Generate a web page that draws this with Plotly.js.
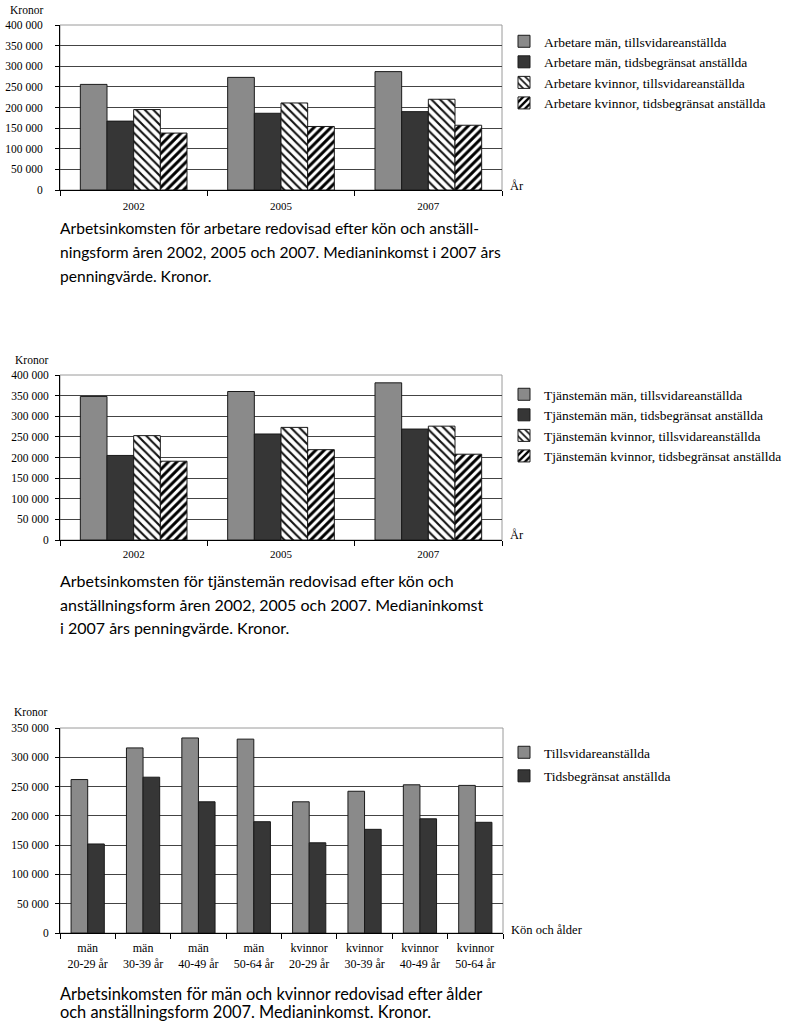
<!DOCTYPE html>
<html>
<head>
<meta charset="utf-8">
<script src="https://cdn.plot.ly/plotly-3.0.1.min.js"></script>
<style>
html,body{margin:0;padding:0;background:#fff;}
.c{position:absolute;left:0;width:805px;}
</style>
</head>
<body>
<div id="c1" class="c" style="top:0px;height:300px;"></div>
<div id="c2" class="c" style="top:340px;height:300px;"></div>
<div id="c3" class="c" style="top:690px;height:334px;"></div>
<script>
// ---------- DATA ----------
const years = ['2002', '2005', '2007'];

const arbNames = ['Arbetare män, tillsvidareanställda', 'Arbetare män, tidsbegränsat anställda',
                  'Arbetare kvinnor, tillsvidareanställda', 'Arbetare kvinnor, tidsbegränsat anställda'];
const arbMenTv = [256000, 273000, 287000];
const arbMenTb = [167000, 186000, 190000];
const arbKvTv  = [195000, 211000, 220000];
const arbKvTb  = [138000, 154000, 157000];

const tjNames = ['Tjänstemän män, tillsvidareanställda', 'Tjänstemän män, tidsbegränsat anställda',
                 'Tjänstemän kvinnor, tillsvidareanställda', 'Tjänstemän kvinnor, tidsbegränsat anställda'];
const tjMenTv = [348000, 360000, 381000];
const tjMenTb = [205000, 257000, 269000];
const tjKvTv  = [253000, 273000, 276000];
const tjKvTb  = [191000, 219000, 208000];

const ageGroups = ['män<br>20-29 år', 'män<br>30-39 år', 'män<br>40-49 år', 'män<br>50-64 år',
                   'kvinnor<br>20-29 år', 'kvinnor<br>30-39 år', 'kvinnor<br>40-49 år', 'kvinnor<br>50-64 år'];
const ageNames = ['Tillsvidareanställda', 'Tidsbegränsat anställda'];
const ageTv = [262000, 316000, 333000, 331000, 224000, 242000, 253000, 252000];
const ageTb = [152000, 266000, 224000, 190000, 154000, 177000, 195000, 189000];

const caption1 = ['Arbetsinkomsten för arbetare redovisad efter kön och anställ-',
                  'ningsform åren 2002, 2005 och 2007. Medianinkomst i 2007 års',
                  'penningvärde. Kronor.'];
const caption2 = ['Arbetsinkomsten för tjänstemän redovisad efter kön och',
                  'anställningsform åren 2002, 2005 och 2007. Medianinkomst',
                  'i 2007 års penningvärde. Kronor.'];
const caption3 = ['Arbetsinkomsten för män och kvinnor redovisad efter ålder',
                  'och anställningsform 2007. Medianinkomst. Kronor.'];

// ---------- STYLE ----------
const GRAY = '#8a8a8a', DARK = '#363636', EDGE = '#1a1a1a';
const SERIF = 'Liberation Serif, Times New Roman, serif';
const SANS = 'Lato, Open Sans, sans-serif';
const styles = [
  {color: GRAY},
  {color: DARK},
  {color: '#ffffff', pattern: {shape: '\\', fgcolor: '#111', bgcolor: '#fff', size: 6, solidity: 0.35}},
  {color: '#ffffff', pattern: {shape: '/', fgcolor: '#000', bgcolor: '#fff', size: 6, solidity: 0.5}}
];

function makeTraces(cats, series, names) {
  return series.map((vals, i) => ({
    type: 'bar', x: cats, y: vals, name: names[i],
    marker: Object.assign({line: {color: EDGE, width: 1}}, styles[i]),
    hoverinfo: 'skip'
  }));
}

function makeChart(id, cfg) {
  const W = 805;
  const pw = cfg.box.r - cfg.box.l, ph = cfg.box.b - cfg.box.t;
  const px = x => (x - cfg.box.l) / pw;
  const py = y => (cfg.box.b - y) / ph;
  const ann = [];
  ann.push({xref: 'paper', yref: 'paper', x: px(cfg.kronor[0]), y: py(cfg.kronor[1]), xanchor: 'left', yanchor: 'middle',
            text: 'Kronor', showarrow: false, font: {family: SERIF, size: 11.5, color: '#000'}});
  ann.push({xref: 'paper', yref: 'paper', x: px(cfg.xlab[0]), y: py(cfg.xlab[1]), xanchor: 'left', yanchor: 'middle',
            text: cfg.xlabText, showarrow: false, font: {family: SERIF, size: 12.5, color: '#000'}});
  cfg.caption.forEach((line, i) => {
    ann.push({xref: 'paper', yref: 'paper', x: px(59), y: py(cfg.capY[i]), xanchor: 'left', yanchor: 'middle',
              text: line, showarrow: false, borderpad: 0, font: {family: SANS, size: cfg.capSize, color: '#000'}});
  });
  const layout = {
    width: W, height: cfg.height,
    margin: {l: cfg.box.l, r: W - cfg.box.r, t: cfg.box.t - cfg.top, b: cfg.top + cfg.height - cfg.box.b, pad: 0},
    paper_bgcolor: '#fff', plot_bgcolor: '#fff',
    barmode: 'group', bargap: cfg.bargap, bargroupgap: 0,
    separators: ', ',
    font: {family: SERIF, size: 12, color: '#000'},
    showlegend: true,
    legend: {x: px(cfg.legend[0]), y: py(cfg.legend[1]), xanchor: 'left', yanchor: 'top',
             font: {family: SERIF, size: 13.5, color: '#000'}, traceorder: cfg.order || 'normal',
             bgcolor: 'rgba(0,0,0,0)', tracegroupgap: cfg.groupgap || 0, itemwidth: 30},
    xaxis: {type: 'category', tickson: 'boundaries', ticks: 'outside', ticklen: 5, tickcolor: '#000',
            showline: true, linecolor: '#000', linewidth: 1, showgrid: false, zeroline: false,
            ticklabelstandoff: cfg.xstandoff,
            tickfont: {family: SERIF, size: cfg.xfont, color: '#000'}, fixedrange: true},
    yaxis: {range: cfg.yrange, dtick: 50000, tickformat: ',d', showgrid: true, gridcolor: '#444', gridwidth: 1,
            showline: true, linecolor: '#000', ticks: 'outside', ticklen: 4, tickcolor: '#000', zeroline: false,
            ticklabelstandoff: cfg.standoff, tickfont: {family: SERIF, size: 11.5, color: '#000'}, fixedrange: true},
    shapes: [{type: 'rect', xref: 'paper', yref: 'paper', x0: 0, x1: 1, y0: 0, y1: 1,
              line: {color: '#9a9a9a', width: 1}, layer: 'below'}],
    annotations: ann
  };
  Plotly.newPlot(id, cfg.traces, layout, {staticPlot: true, displayModeBar: false});
}

const t3 = makeTraces(ageGroups, [ageTv, ageTb], ageNames);
t3[0].legendgroup = 'a'; t3[1].legendgroup = 'b';

makeChart('c1', {
  top: 0, height: 300, box: {l: 60, r: 502, t: 25, b: 190},
  traces: makeTraces(years, [arbMenTv, arbMenTb, arbKvTv, arbKvTb], arbNames),
  yrange: [0, 400000], bargap: 0.276, xfont: 11, standoff: 10, xstandoff: 6,
  kronor: [8, 10], xlab: [508, 186], xlabText: 'År',
  legend: [504, 26], caption: caption1, capY: [228, 252, 276], capSize: 15.6
});
makeChart('c2', {
  top: 340, height: 300, box: {l: 60, r: 502, t: 375, b: 540},
  traces: makeTraces(years, [tjMenTv, tjMenTb, tjKvTv, tjKvTb], tjNames),
  yrange: [0, 400000], bargap: 0.276, xfont: 11, standoff: 4, xstandoff: 4,
  kronor: [13, 360], xlab: [508, 535], xlabText: 'År',
  legend: [504, 379], caption: caption2, capY: [580, 604, 627], capSize: 16
});
makeChart('c3', {
  top: 690, height: 334, box: {l: 60, r: 503, t: 728, b: 933},
  traces: t3,
  yrange: [0, 350000], bargap: 0.4, xfont: 12, standoff: 4, xstandoff: 4,
  groupgap: 3, order: 'grouped',
  kronor: [12, 712], xlab: [509, 930], xlabText: 'Kön och ålder',
  legend: [504, 737], caption: caption3, capY: [993, 1011], capSize: 16.4
});
</script>
</body>
</html>
